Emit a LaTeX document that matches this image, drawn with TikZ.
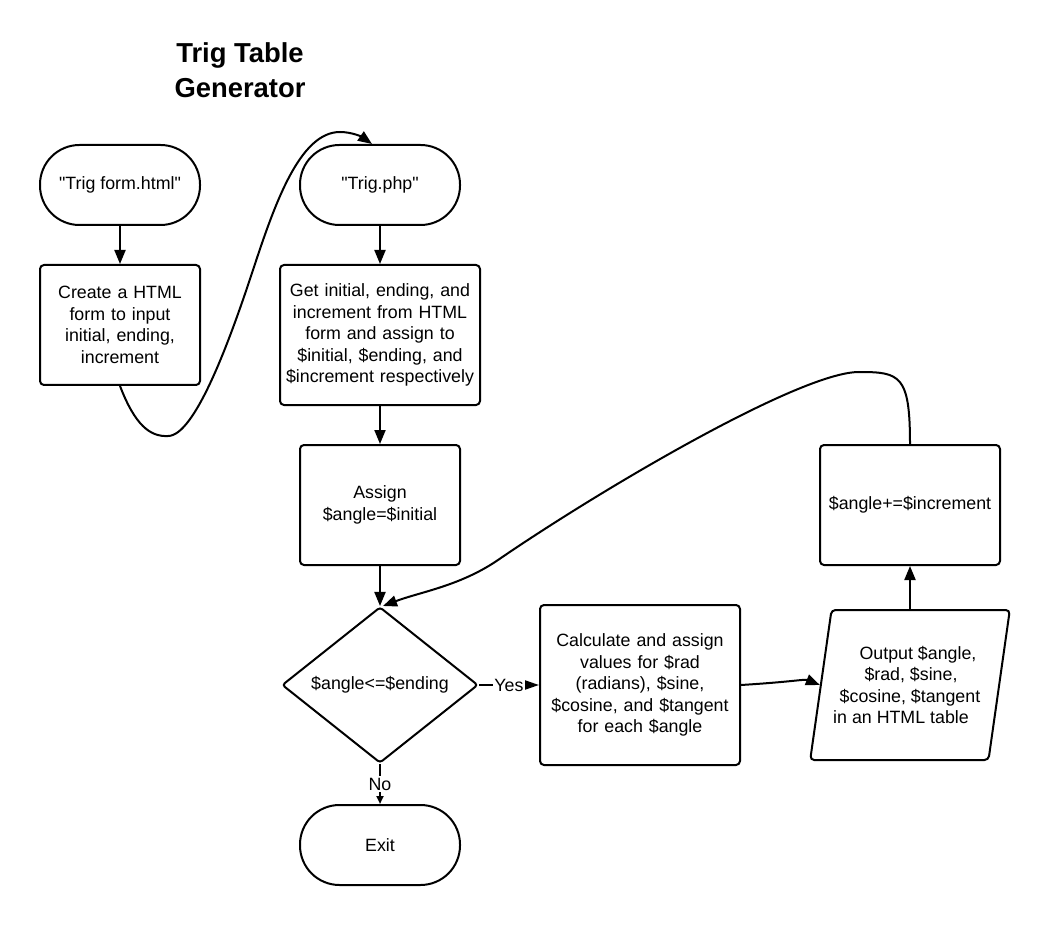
\documentclass[tikz,border=0pt]{standalone}
\usepackage{fontspec}
\setmainfont{Liberation Sans}
\usetikzlibrary{shapes.geometric, arrows.meta}
\begin{document}
\begin{tikzpicture}[x=1pt,y=-1pt,
  every node/.style={font=\fontsize{17.8}{21.5}\selectfont},
  line/.style={line width=2pt, line join=round},
  arr/.style={line width=2pt, line join=round, -{Triangle[length=14pt,width=11pt]}},
  term/.style={draw, line width=2pt, rounded corners=39.5, minimum width=160, minimum height=80, inner sep=0},
  proc/.style={draw, line width=2pt, rounded corners=4, align=center, inner sep=0},
  lbl/.style={fill=white, inner sep=1.5}]
\fill[white] (0,0) rectangle (1050,925);
\useasboundingbox (0,0) rectangle (1050,925);

\node[font=\fontsize{27.4}{35}\selectfont\bfseries, align=center] (title) at (240,70.5) {Trig Table\\Generator};

\node[term] (form) at (120,185) {\textquotedbl Trig form.html\textquotedbl};
\node[proc, minimum width=160, minimum height=120, text width=150] (html) at (120,325) {Create a HTML\\form to input\\initial, ending,\\increment};

\node[term] (php) at (380,185) {\textquotedbl Trig.php\textquotedbl};
\node[proc, minimum width=200, minimum height=140, text width=196] (get) at (380,335) {Get initial, ending, and\\increment from HTML\\form and assign to\\\$initial, \$ending, and\\\$increment respectively};

\node[proc, minimum width=160, minimum height=120, text width=150] (assign) at (380,505) {Assign\\\$angle=\$initial};

\node[diamond, draw, line width=2pt, aspect=1.256, minimum width=196, minimum height=156, inner sep=0, rounded corners=3] (dec) at (380,685) {\$angle<=\$ending};

\node[term] (exit) at (380,845) {Exit};

\node[proc, minimum width=200, minimum height=160, text width=196] (calc) at (640,685) {Calculate and assign\\values for \$rad\\(radians), \$sine,\\\$cosine, and \$tangent\\for each \$angle};

\node[trapezium, draw, line width=2pt, trapezium left angle=75, trapezium right angle=105, trapezium stretches=true, minimum width=200, minimum height=150, inner sep=0, rounded corners=4, align=center] (out) at (910,685) {\hspace*{16pt}Output \$angle,\\\hspace*{2pt}\$rad, \$sine,\\\$cosine, \$tangent\hspace*{8pt}\\in an HTML table\hspace*{18pt}};

\node[proc, minimum width=180, minimum height=120, text width=176] (inc) at (910,505) {\$angle+=\$increment};

% connectors
\draw[arr] (form) -- (html);
\draw[arr] (php) -- (get);
\draw[arr] (get) -- (assign);
\draw[arr] (assign) -- (dec);
\draw[arr] (out) -- (inc);
\draw[line, -{Triangle[length=14pt,width=9pt]}] (dec.east) -- node[lbl] {Yes} (calc.west);
\draw[line, -{Triangle[length=8pt,width=7pt]}] (dec.south) -- node[lbl] {No} (exit.north);

\draw[arr] (html.south) .. controls (135,425) and (150,437) .. (168,436)
  .. controls (195,436) and (230,340) .. (253,270)
  .. controls (275,203) and (300,132) .. (340,132)
  .. controls (352,132) and (362,137) .. ([xshift=-8pt]php.north);

\draw[arr] (inc.north) .. controls (910,375) and (900,372) .. (859,372)
  .. controls (800,372) and (600,490) .. (498,560)
  .. controls (460,586) and (420,592) .. ([xshift=3pt]dec.north);

\draw[arr] (calc.east) .. controls (790,682) and (805,679) .. (out.left side);
\end{tikzpicture}
\end{document}
